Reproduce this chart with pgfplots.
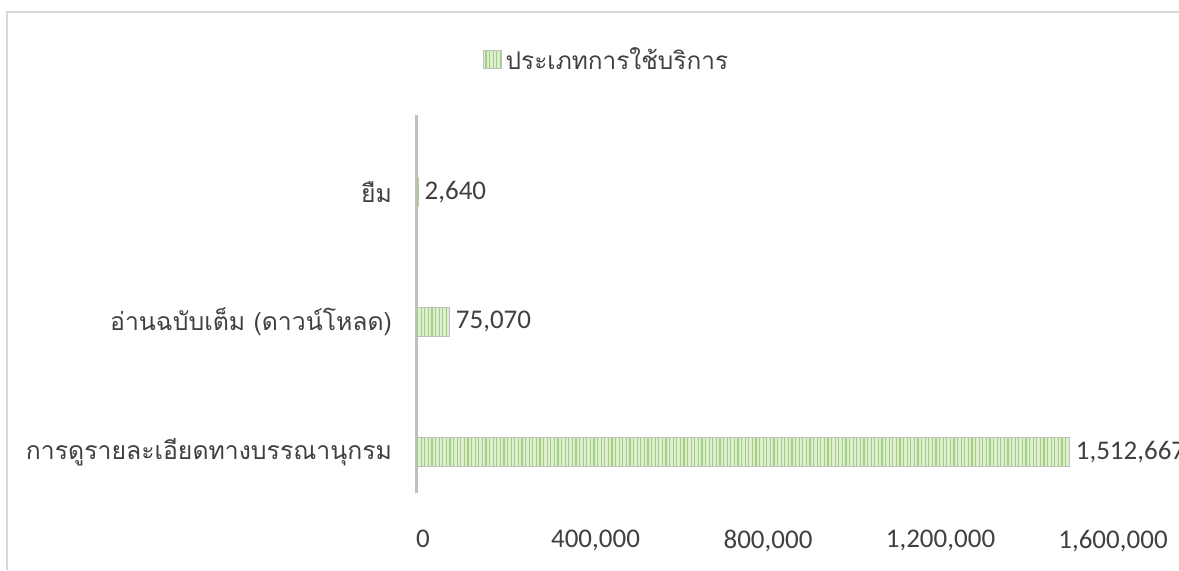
\documentclass[border=0pt]{standalone}
\usepackage{fontspec}
\setmainfont[Script=Thai]{Loma}
\newfontfamily\numfont{Carlito}
\usepackage{pgfplots}
\pgfplotsset{compat=1.18}
\usetikzlibrary{patterns.meta}

\definecolor{framegray}{RGB}{217,217,217}
\definecolor{axisgray}{RGB}{191,191,191}
\definecolor{barbase}{RGB}{222,238,208}
\definecolor{barstripe}{RGB}{163,207,128}
\definecolor{txt}{RGB}{64,64,64}

\begin{document}
\begin{tikzpicture}
\useasboundingbox (0,0) rectangle (589.5pt,285pt);
\draw[framegray, line width=1pt] (589.5pt,279pt) -- (3.5pt,279pt) -- (3.5pt,0pt);
\begin{axis}[
  at={(208.5pt,38.5pt)}, anchor=south west,
  scale only axis, width=345pt, height=189pt,
  xbar, bar width=0.223,
  xmin=0, xmax=1600000, ymin=-0.315, ymax=2.59,
  enlargelimits=false, clip=false,
  axis y line*=left, axis x line*=bottom,
  x axis line style={draw=none},
  y axis line style={draw=axisgray, line width=1.5pt, -},
  major tick length=0pt,
  xtick={0,400000,800000,1200000,1600000},
  scaled x ticks=false,
  xticklabel style={font=\numfont\fontsize{13.5}{15}\selectfont, text=txt, yshift=-15pt, xshift=3pt,
    /pgf/number format/fixed, /pgf/number format/precision=0,
    /pgf/number format/1000 sep={,}, /pgf/number format/assume math mode=true},
  ytick={0,1,2},
  yticklabels={การดูรายละเอียดทางบรรณานุกรม, อ่านฉบับเต็ม (ดาวน์โหลด), ยืม},
  yticklabel style={font=\fontsize{12.4}{15}\selectfont, text=txt, xshift=-9pt},
  nodes near coords,
  nodes near coords style={font=\numfont\fontsize{13.5}{15}\selectfont, text=txt, anchor=west,
    inner sep=1pt, xshift=2pt,
    /pgf/number format/fixed, /pgf/number format/precision=0,
    /pgf/number format/1000 sep={,}, /pgf/number format/assume math mode=true},
  legend style={at={(0.276,1.146)}, anchor=center, draw=none, fill=none,
    font=\fontsize{12.2}{15}\selectfont, text=txt},
  legend image code/.code={\draw[#1] (0pt,-4.5pt) rectangle (9pt,4.5pt);},
]
\addplot[draw=axisgray, line width=0.5pt, fill=barbase,
  postaction={pattern={Lines[angle=90,distance=1.8pt,line width=0.6pt]}, pattern color=barstripe}]
  coordinates {(1512667,0) (75070,1) (2640,2)};
\addlegendentry{ประเภทการใช้บริการ}
\end{axis}
\end{tikzpicture}
\end{document}
